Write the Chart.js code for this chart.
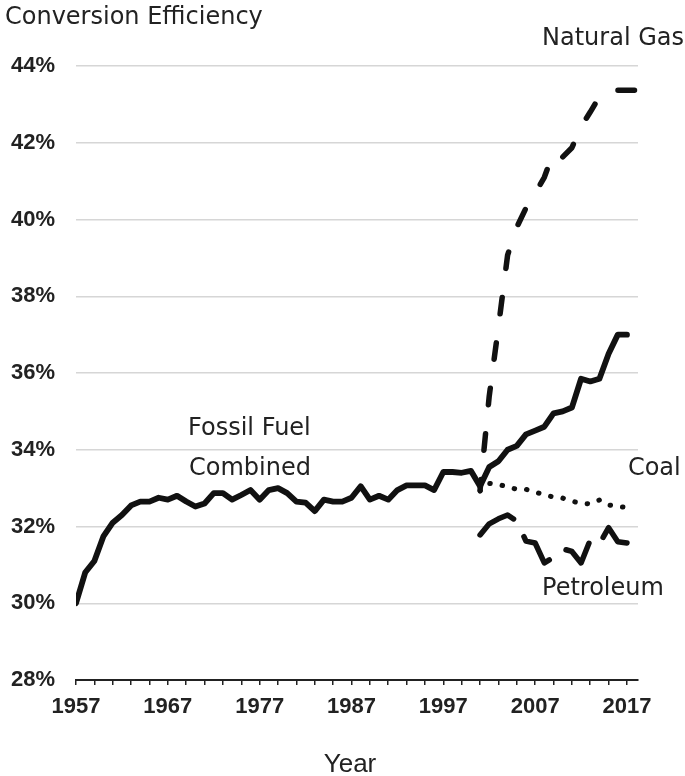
<!DOCTYPE html>
<html><head><meta charset="utf-8">
<script src="https://cdn.jsdelivr.net/npm/chart.js@4.4.1/dist/chart.umd.min.js"></script>
<style>html,body{margin:0;padding:0;background:#fff}#wrap{width:685px;height:776px}</style>
</head><body><div id="wrap"><canvas id="c" width="685" height="776"></canvas></div>
<script>
// ---- data ----
const combinedYears = Array.from({length: 61}, (_, i) => 1957 + i);
const combinedValues = [
  30.0, 30.8, 31.1, 31.75, 32.1, 32.3, 32.55, 32.65, 32.65, 32.75,
  32.7, 32.8, 32.65, 32.52, 32.6, 32.87, 32.87, 32.7, 32.82, 32.95,
  32.7, 32.95, 33.0, 32.87, 32.65, 32.62, 32.4, 32.7, 32.65, 32.65,
  32.75, 33.05, 32.7, 32.8, 32.7, 32.95, 33.07, 33.07, 33.07, 32.95,
  33.42, 33.42, 33.4, 33.45, 33.05, 33.55, 33.7, 34.0, 34.1, 34.4,
  34.5, 34.6, 34.95, 35.0, 35.1, 35.85, 35.78, 35.85, 36.5, 37.0,
  37.0
];
const fuelYears = Array.from({length: 17}, (_, i) => 2001 + i);
const gasYears = Array.from({length: 18}, (_, i) => 2001 + i);
const naturalGasValues = [32.95, 35.4, 37.2, 39.07, 39.8, 40.3, 40.68, 41.1, 41.76, 41.63, 41.87, 42.42, 42.8, 43.2, 43.37, 43.37, 43.37, 43.37];
const coalValues = [32.92, 33.12, 33.1, 33.03, 32.97, 32.97, 32.9, 32.82, 32.77, 32.74, 32.66, 32.6, 32.59, 32.69, 32.56, 32.52, 32.5];
const petroleumValues = [31.78, 32.07, 32.2, 32.3, 32.14, 31.62, 31.57, 31.05, 31.2, 31.42, 31.35, 31.05, 31.65, 31.55, 31.97, 31.6, 31.57];
const xTickLabels = [1957, 1967, 1977, 1987, 1997, 2007, 2017];
const yTickValues = [28, 30, 32, 34, 36, 38, 40, 42, 44];
const seriesLabels = {
  combined: ['Fossil Fuel', 'Combined'],
  gas: 'Natural Gas', coal: 'Coal', petroleum: 'Petroleum'
};
const titleText = 'Conversion Efficiency';
const xTitle = 'Year';

const pts = (xs, ys) => xs.map((x, i) => ({x, y: ys[i]}));
const INK = '#111';

const annotate = {
  id: 'annotate',
  afterDraw(chart) {
    const {ctx, scales: {x, y}} = chart;
    ctx.save();
    ctx.fillStyle = '#222';
    ctx.textBaseline = 'alphabetic';
    ctx.textAlign = 'left';
    ctx.font = '24px "DejaVu Sans"';
    ctx.fillText(titleText, 5, 24);
    const put = (t, xv, yv) => ctx.fillText(t, x.getPixelForValue(xv), y.getPixelForValue(yv));
    put(seriesLabels.gas, 2007.75, 44.55);
    put(seriesLabels.combined[0], 1969.2, 34.38);
    put(seriesLabels.combined[1], 1969.3, 33.34);
    put(seriesLabels.coal, 2017.1, 33.34);
    put(seriesLabels.petroleum, 2007.75, 30.21);
    ctx.font = '26px "Liberation Sans"';
    ctx.textAlign = 'center';
    ctx.fillText(xTitle, 350, 772);
    ctx.restore();
  }
};

new Chart(document.getElementById('c'), {
  type: 'line',
  data: {
    datasets: [
      {data: pts(combinedYears, combinedValues), borderColor: INK, borderWidth: 5.8,
       borderCapStyle: 'round', borderJoinStyle: 'round'},
      {data: pts(gasYears, naturalGasValues), borderColor: INK, borderWidth: 5.5,
       borderCapStyle: 'round', borderJoinStyle: 'round', borderDash: [16.5, 29.3], borderDashOffset: 5.8},
      {data: pts(fuelYears, coalValues), borderColor: INK, borderWidth: 5,
       borderCapStyle: 'round', borderJoinStyle: 'round', borderDash: [0.5, 12]},
      {data: pts(fuelYears, petroleumValues), borderColor: INK, borderWidth: 5.5,
       borderCapStyle: 'round', borderJoinStyle: 'round', borderDash: [42, 21]}
    ]
  },
  options: {
    responsive: false, animation: false,
    layout: {padding: {top: 66, right: 47, left: 0, bottom: 0}},
    elements: {point: {radius: 0}, line: {tension: 0}},
    plugins: {legend: {display: false}, tooltip: {enabled: false}},
    scales: {
      x: {
        type: 'linear', min: 1957, max: 2018.2,
        afterBuildTicks: s => {
          const t = [];
          for (let v = 1957; v <= 2017; v += 2) t.push({value: v});
          s.ticks = t;
        },
        afterFit: s => { s.height = 96; },
        grid: {drawOnChartArea: false, drawTicks: true, tickLength: 5, color: '#222', lineWidth: 1.5},
        border: {display: true, color: '#222', width: 2},
        ticks: {
          autoSkip: false, maxRotation: 0, padding: 9, color: '#222',
          font: {family: '"Liberation Sans"', size: 22, weight: 'bold'},
          callback: v => xTickLabels.includes(v) ? String(v) : ''
        }
      },
      y: {
        min: 28, max: 44,
        afterBuildTicks: s => { s.ticks = yTickValues.map(v => ({value: v})); },
        afterFit: s => { s.width = 76; },
        grid: {drawTicks: false, color: '#d6d6d6', lineWidth: 1.5},
        border: {display: false},
        ticks: {
          padding: 21, color: '#222',
          font: {family: '"Liberation Sans"', size: 22, weight: 'bold'},
          callback: v => v + '%'
        }
      }
    }
  },
  plugins: [annotate]
});
</script></body></html>
